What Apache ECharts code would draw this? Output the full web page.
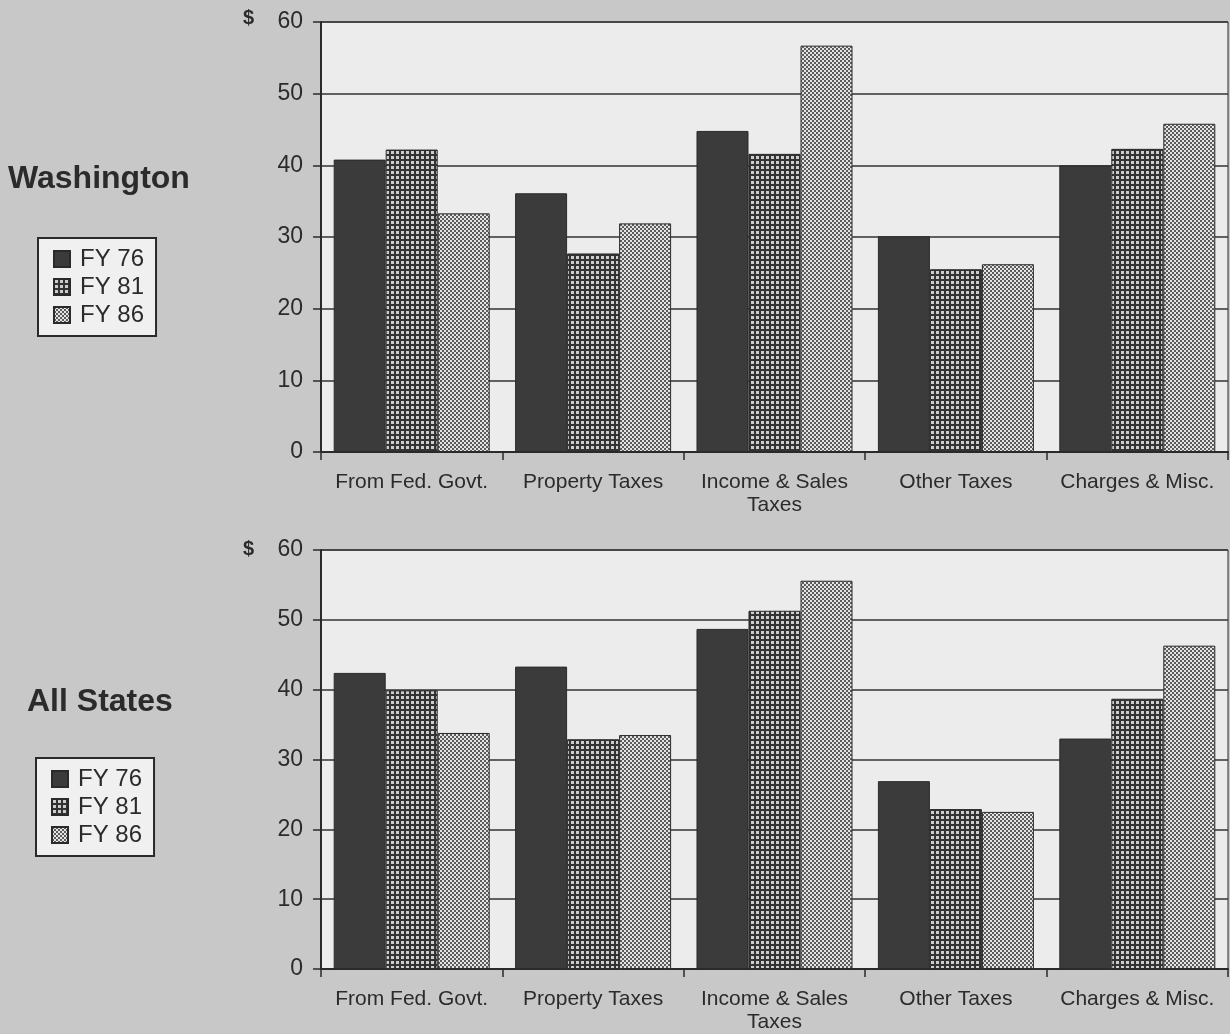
<!DOCTYPE html>
<html>
<head>
<meta charset="utf-8">
<script src="https://cdn.jsdelivr.net/npm/echarts@6/dist/echarts.min.js"></script>
<style>
  html, body { margin: 0; padding: 0; background: #c8c8c8; }
  #chart { width: 1230px; height: 1034px; }
</style>
</head>
<body>
<div id="chart"></div>
<script>
// Revenue sources per $100 of revenue, three fiscal years
const categories = ['From Fed. Govt.', 'Property Taxes', 'Income & Sales\nTaxes', 'Other Taxes', 'Charges & Misc.'];
const years = ['FY 76', 'FY 81', 'FY 86'];
const yTicks = [0, 10, 20, 30, 40, 50, 60];

const washFY76 = [40.8, 36.1, 44.8, 30.1, 40.0];
const washFY81 = [42.2, 27.7, 41.6, 25.5, 42.3];
const washFY86 = [33.3, 31.9, 56.7, 26.2, 45.8];

const allFY76 = [42.4, 43.3, 48.7, 26.9, 33.0];
const allFY81 = [39.9, 32.9, 51.3, 22.9, 38.7];
const allFY86 = [33.8, 33.5, 55.6, 22.5, 46.3];

// Fill patterns: solid dark, dark with light dots, fine checker
function makePattern(size, bg, fg, cells) {
  const c = document.createElement('canvas');
  c.width = size; c.height = size;
  const g = c.getContext('2d');
  g.fillStyle = bg; g.fillRect(0, 0, size, size);
  g.fillStyle = fg;
  cells.forEach(([x, y, w, h]) => g.fillRect(x, y, w, h));
  return { image: c, repeat: 'repeat' };
}
const fillSolid = '#3b3b3b';
const fillDots = makePattern(5, '#333333', '#cdcdcd', [[1, 1, 3, 3]]);
const fillFine = makePattern(4, '#e4e4e4', '#5c5c5c', [[0, 0, 2, 2], [2, 2, 2, 2]]);
const fills = [fillSolid, fillDots, fillFine];

const textColor = '#2b2b2b';
const font = '"Liberation Sans", Arial, Helvetica, sans-serif';

const grids = [
  { left: 321, top: 22, width: 907, height: 430 },
  { left: 321, top: 550, width: 907, height: 421 }
].map(g => Object.assign(g, {
  show: true, backgroundColor: '#ececec', borderColor: '#2e2e2e', borderWidth: 1
}));

function xAxisFor(idx) {
  return {
    type: 'category', gridIndex: idx, data: categories,
    axisLine: { lineStyle: { color: '#2a2a2a', width: 2 } },
    axisTick: { show: true, length: 8, lineStyle: { color: '#2a2a2a', width: 1.5 } },
    axisLabel: { interval: 0, color: textColor, fontFamily: font, fontSize: 21, margin: 19, lineHeight: 23 }
  };
}
function yAxisFor(idx) {
  return {
    type: 'value', gridIndex: idx, min: yTicks[0], max: yTicks[yTicks.length - 1], interval: 10,
    axisLine: { show: true, lineStyle: { color: '#2a2a2a', width: 2 } },
    axisTick: { show: true, length: 8, lineStyle: { color: '#2a2a2a', width: 1.5 } },
    splitLine: { show: true, lineStyle: { color: '#333', width: 1.5 } },
    axisLabel: { color: textColor, fontFamily: font, fontSize: 23, margin: 18 }
  };
}

function barSeries(name, data, idx, fill) {
  return {
    type: 'bar', name, data, xAxisIndex: idx, yAxisIndex: idx,
    barGap: '0%', barCategoryGap: '14%',
    itemStyle: { color: fill, borderColor: '#2a2a2a', borderWidth: 1 },
    emphasis: { disabled: true }
  };
}

function legendAt(left, top) {
  return {
    data: years, orient: 'vertical', left, top,
    padding: [9, 12, 9, 15], itemGap: 4, itemWidth: 16, itemHeight: 16,
    icon: 'rect', borderColor: '#2a2a2a', borderWidth: 2, backgroundColor: '#f0f0f0',
    selectedMode: false,
    textStyle: { color: textColor, fontFamily: font, fontSize: 24, padding: [0, 0, 0, 5] }
  };
}

const chart = echarts.init(document.getElementById('chart'), null, { renderer: 'canvas' });
chart.setOption({
  backgroundColor: '#c8c8c8',
  animation: false,
  grid: grids,
  xAxis: [xAxisFor(0), xAxisFor(1)],
  yAxis: [yAxisFor(0), yAxisFor(1)],
  legend: [legendAt(38, 238), legendAt(36, 758)],
  series: [
    barSeries(years[0], washFY76, 0, fills[0]),
    barSeries(years[1], washFY81, 0, fills[1]),
    barSeries(years[2], washFY86, 0, fills[2]),
    barSeries(years[0], allFY76, 1, fills[0]),
    barSeries(years[1], allFY81, 1, fills[1]),
    barSeries(years[2], allFY86, 1, fills[2])
  ],
  graphic: [
    { type: 'text', left: 8, top: 163, style: { text: 'Washington', fill: textColor, font: 'bold 32px ' + font } },
    { type: 'text', left: 27, top: 686, style: { text: 'All States', fill: textColor, font: 'bold 32px ' + font } },
    { type: 'text', left: 243, top: 8, style: { text: '$', fill: textColor, font: 'bold 20px ' + font } },
    { type: 'text', left: 243, top: 539, style: { text: '$', fill: textColor, font: 'bold 20px ' + font } }
  ]
});
</script>
</body>
</html>
